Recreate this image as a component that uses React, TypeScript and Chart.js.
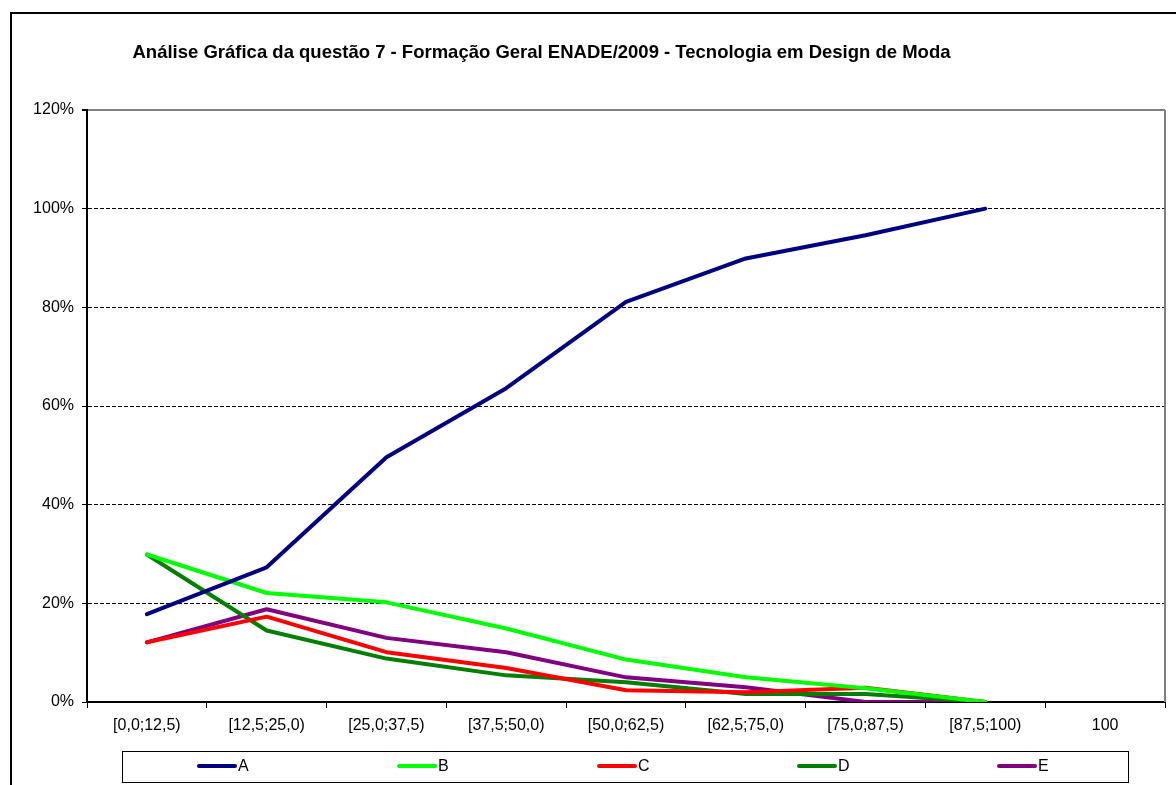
import React, { useEffect, useRef } from "react";
import { Chart, registerables } from "chart.js";

Chart.register(...registerables);

const TITLE =
  "Análise Gráfica da questão 7 - Formação Geral ENADE/2009 - Tecnologia em Design de Moda";

const categories = [
  "[0,0;12,5)",
  "[12,5;25,0)",
  "[25,0;37,5)",
  "[37,5;50,0)",
  "[50,0;62,5)",
  "[62,5;75,0)",
  "[75,0;87,5)",
  "[87,5;100)",
  "100",
];

const seriesNames = ["A", "B", "C", "D", "E"];
const seriesA = [17.8, 27.3, 49.6, 63.6, 81.1, 89.9, 94.6, 100, null];
const seriesB = [29.9, 22.1, 20.2, 14.9, 8.6, 5.0, 2.8, 0, null];
const seriesC = [12.1, 17.3, 10.1, 6.9, 2.4, 2.0, 2.9, 0, null];
const seriesD = [29.9, 14.5, 8.8, 5.4, 4.0, 1.6, 1.6, 0, null];
const seriesE = [12.1, 18.8, 13.0, 10.1, 5.0, 3.0, 0, 0, null];
const seriesColors = ["#000080", "#00FF00", "#FF0000", "#008000", "#800080"];

const yMin = 0;
const yMax = 120;
const yStep = 20;

const FONT = '"Liberation Sans", Arial, sans-serif';

const framePlugin = {
  id: "frame",
  beforeDraw(chart: any) {
    const { ctx } = chart;
    ctx.save();
    ctx.fillStyle = "#fff";
    ctx.fillRect(0, 0, chart.width, chart.height);
    ctx.strokeStyle = "#000";
    ctx.lineWidth = 2;
    ctx.strokeRect(11, 13, 1400, 1000);
    ctx.fillStyle = "#000";
    ctx.font = `bold 18.5px ${FONT}`;
    ctx.textAlign = "center";
    ctx.textBaseline = "alphabetic";
    ctx.fillText(TITLE, 541.5, 58);
    ctx.restore();
  },
  beforeDatasetsDraw(chart: any) {
    const { ctx, chartArea } = chart;
    ctx.save();
    ctx.strokeStyle = "#808080";
    ctx.lineWidth = 2;
    ctx.beginPath();
    ctx.moveTo(chartArea.right, chartArea.top);
    ctx.lineTo(chartArea.right, chartArea.bottom);
    ctx.stroke();
    ctx.restore();
  },
  afterDraw(chart: any) {
    const { ctx } = chart;
    ctx.save();
    ctx.strokeStyle = "#000";
    ctx.lineWidth = 1;
    ctx.strokeRect(122.5, 751.5, 1006, 31);
    chart.data.datasets.forEach((ds: any, i: number) => {
      const x0 = 199 + i * 200;
      ctx.strokeStyle = ds.borderColor;
      ctx.lineWidth = 4;
      ctx.lineCap = "round";
      ctx.beginPath();
      ctx.moveTo(x0, 766);
      ctx.lineTo(x0 + 36, 766);
      ctx.stroke();
      ctx.fillStyle = "#000";
      ctx.font = `16px ${FONT}`;
      ctx.textAlign = "left";
      ctx.textBaseline = "middle";
      ctx.fillText(ds.label, x0 + 39, 767);
    });
    ctx.restore();
  },
};

export default function App() {
  const ref = useRef<HTMLCanvasElement | null>(null);

  useEffect(() => {
    if (!ref.current) return;
    const allSeries = [seriesA, seriesB, seriesC, seriesD, seriesE];
    const chart = new Chart(ref.current, {
      type: "line",
      data: {
        labels: categories,
        datasets: allSeries.map((s, i) => ({
          label: seriesNames[i],
          data: s,
          borderColor: seriesColors[i],
          backgroundColor: seriesColors[i],
          borderWidth: 4,
          pointRadius: 0,
          pointHoverRadius: 0,
          tension: 0,
          borderJoinStyle: "round",
          borderCapStyle: "round",
          fill: false,
        })),
      },
      options: {
        animation: false,
        responsive: false,
        devicePixelRatio: 1,
        layout: { padding: { top: 110, right: 11, left: 0, bottom: 0 } },
        plugins: {
          legend: { display: false },
          title: { display: false },
          tooltip: { enabled: false },
        },
        scales: {
          x: {
            type: "category",
            offset: true,
            afterFit(scale: any) {
              scale.height = 83;
            },
            grid: {
              offset: true,
              drawOnChartArea: false,
              drawTicks: true,
              tickLength: 6,
              color: "#000",
              tickColor: "#000",
              lineWidth: 1,
            },
            border: { display: true, color: "#000", width: 2 },
            ticks: {
              color: "#000",
              font: { family: FONT, size: 16 },
              padding: 8,
              maxRotation: 0,
              autoSkip: false,
            },
          },
          y: {
            min: yMin,
            max: yMax,
            afterFit(scale: any) {
              scale.width = 87;
            },
            ticks: {
              stepSize: yStep,
              color: "#000",
              font: { family: FONT, size: 16 },
              padding: 8,
              callback: (v: any) => `${v}%`,
            },
            grid: {
              drawTicks: true,
              tickLength: 5,
              tickColor: "#000",
              color: (c: any) =>
                c.tick && c.tick.value === yMax ? "#808080" : "#000",
              lineWidth: (c: any) => (c.tick && c.tick.value === yMax ? 2 : 1),
            },
            border: {
              display: true,
              color: "#000",
              width: 2,
              dash: (c: any) => (c.tick && c.tick.value === yMax ? [] : [4, 2]),
            },
          },
        },
      },
      plugins: [framePlugin],
    } as any);
    return () => chart.destroy();
  }, []);

  return (
    <div style={{ position: "absolute", left: 0, top: 0, width: 1176, height: 785 }}>
      <canvas ref={ref} width={1176} height={785} style={{ display: "block" }} />
    </div>
  );
}
